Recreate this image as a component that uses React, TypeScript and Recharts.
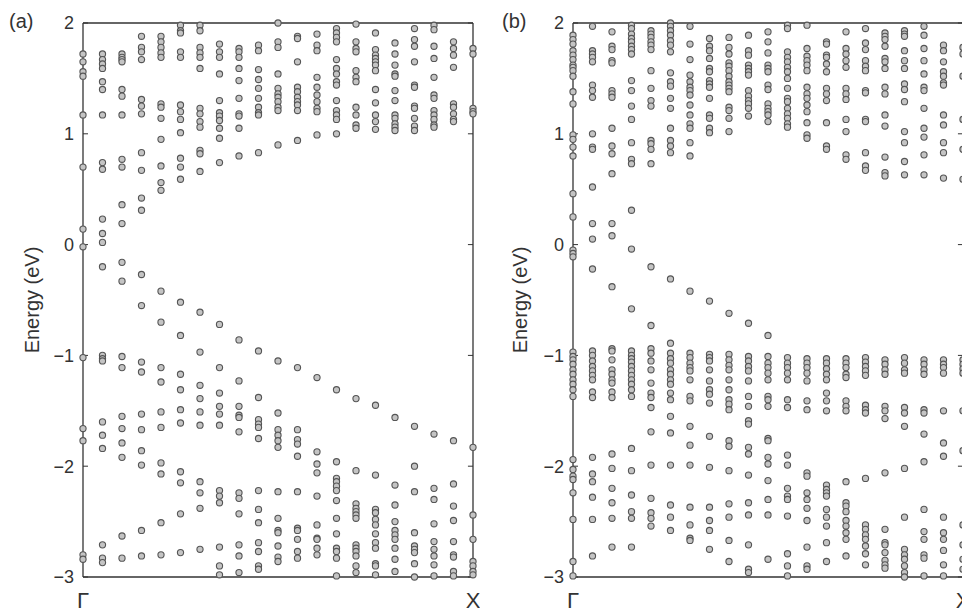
import React from "react";
import { ScatterChart, Scatter, XAxis, YAxis, ReferenceLine } from "recharts";

// k index along Γ → X (21 sampled points)
const kIndex = [0, 1, 2, 3, 4, 5, 6, 7, 8, 9, 10, 11, 12, 13, 14, 15, 16, 17, 18, 19, 20];
const kTicks = [0, 20];
const kLabels = ["Γ", "X"];
const energyTicks = [-3, -2, -1, 0, 1, 2];

// panel (a): energies (eV) per k column
const bandsA: number[][] = [
  [1.72, 1.65, 1.56, 1.52, 1.17, 0.7, 0.14, -0.02, -1.02, -1.66, -1.77, -2.8, -2.84],
  [1.72, 1.67, 1.63, 1.59, 1.47, 1.4, 1.17, 0.74, 0.68, 0.23, 0.1, 0.02, -0.2, -1.0, -1.03, -1.05, -1.6, -1.72, -1.84, -2.71, -2.83, -2.87],
  [1.72, 1.69, 1.67, 1.65, 1.4, 1.34, 1.17, 0.77, 0.7, 0.36, 0.19, -0.16, -0.33, -1.01, -1.11, -1.55, -1.66, -1.79, -1.92, -2.63, -2.83],
  [1.88, 1.78, 1.74, 1.67, 1.31, 1.25, 1.18, 0.83, 0.67, 0.42, 0.31, -0.27, -0.55, -1.06, -1.15, -1.53, -1.67, -1.86, -1.99, -2.58, -2.81],
  [1.88, 1.83, 1.78, 1.73, 1.69, 1.27, 1.24, 1.14, 0.95, 0.71, 0.56, 0.49, -0.42, -0.7, -1.11, -1.24, -1.51, -1.65, -1.97, -2.07, -2.51, -2.8],
  [1.98, 1.93, 1.91, 1.74, 1.69, 1.26, 1.2, 1.13, 1.01, 0.78, 0.7, 0.59, -0.52, -0.82, -1.17, -1.31, -1.49, -1.61, -2.05, -2.15, -2.43, -2.78],
  [1.98, 1.93, 1.78, 1.73, 1.69, 1.59, 1.23, 1.18, 1.11, 1.06, 0.85, 0.82, 0.66, -0.61, -0.97, -1.27, -1.39, -1.51, -1.63, -2.14, -2.24, -2.38, -2.75],
  [1.81, 1.74, 1.69, 1.54, 1.3, 1.19, 1.16, 1.12, 1.05, 0.96, 0.74, -0.72, -1.11, -1.34, -1.46, -1.53, -1.63, -2.22, -2.27, -2.33, -2.73, -2.9, -2.98],
  [1.77, 1.74, 1.69, 1.59, 1.48, 1.32, 1.18, 1.16, 1.05, 0.8, -0.86, -1.23, -1.46, -1.54, -1.56, -1.69, -2.24, -2.29, -2.43, -2.71, -2.81, -2.96],
  [1.8, 1.75, 1.58, 1.49, 1.41, 1.32, 1.24, 1.19, 1.17, 0.83, -0.96, -1.38, -1.58, -1.62, -1.65, -1.75, -2.22, -2.39, -2.51, -2.69, -2.77, -2.9, -2.93],
  [2.0, 1.83, 1.78, 1.54, 1.41, 1.36, 1.33, 1.29, 1.24, 1.21, 0.9, -1.05, -1.52, -1.67, -1.72, -1.77, -1.83, -2.23, -2.47, -2.58, -2.6, -2.72, -2.82, -2.86],
  [1.88, 1.86, 1.65, 1.42, 1.38, 1.33, 1.29, 1.26, 1.21, 0.94, -1.11, -1.67, -1.76, -1.8, -1.91, -2.23, -2.56, -2.58, -2.66, -2.77, -2.83],
  [1.9, 1.8, 1.75, 1.51, 1.42, 1.35, 1.29, 1.23, 1.2, 0.99, -1.2, -1.87, -1.98, -2.06, -2.27, -2.53, -2.65, -2.66, -2.74, -2.8],
  [1.95, 1.91, 1.87, 1.83, 1.67, 1.59, 1.54, 1.47, 1.44, 1.3, 1.21, 1.17, 1.13, 1.0, -1.31, -1.96, -2.11, -2.14, -2.18, -2.22, -2.31, -2.47, -2.61, -2.74, -2.77, -2.83, -2.99],
  [1.99, 1.83, 1.77, 1.74, 1.57, 1.51, 1.47, 1.24, 1.17, 1.08, 1.05, -1.39, -2.04, -2.34, -2.38, -2.41, -2.44, -2.47, -2.71, -2.74, -2.77, -2.81, -2.9, -2.96],
  [1.91, 1.76, 1.71, 1.68, 1.65, 1.62, 1.57, 1.4, 1.28, 1.17, 1.11, 1.04, -1.45, -2.08, -2.39, -2.42, -2.48, -2.53, -2.61, -2.69, -2.74, -2.88, -2.9, -2.98],
  [1.82, 1.72, 1.62, 1.54, 1.52, 1.39, 1.3, 1.17, 1.14, 1.09, 1.06, 1.03, -1.56, -2.17, -2.35, -2.5, -2.58, -2.62, -2.66, -2.74, -2.84, -2.95],
  [1.95, 1.85, 1.79, 1.65, 1.44, 1.42, 1.25, 1.23, 1.14, 1.07, 1.03, -1.64, -2.0, -2.23, -2.6, -2.72, -2.75, -2.78, -2.88, -3.0],
  [1.98, 1.94, 1.79, 1.68, 1.51, 1.35, 1.32, 1.21, 1.17, 1.13, 1.08, 1.06, -1.71, -2.2, -2.3, -2.52, -2.68, -2.75, -2.81, -2.89, -2.99],
  [1.83, 1.77, 1.71, 1.6, 1.27, 1.24, 1.18, 1.13, 1.11, -1.77, -2.16, -2.36, -2.49, -2.68, -2.8, -2.82, -2.95, -2.99],
  [1.77, 1.72, 1.23, 1.2, 1.18, -1.83, -2.44, -2.66, -2.86, -2.9, -2.95, -2.98],
];

// panel (b): energies (eV) per k column
const bandsB: number[][] = [
  [1.89, 1.85, 1.81, 1.75, 1.71, 1.67, 1.62, 1.6, 1.57, 1.52, 1.38, 1.27, 0.99, 0.95, 0.88, 0.8, 0.46, 0.25, -0.05, -0.08, -0.11, -0.97, -1.01, -1.04, -1.08, -1.13, -1.17, -1.22, -1.26, -1.31, -1.37, -1.94, -2.03, -2.09, -2.12, -2.24, -2.48, -2.86, -2.99],
  [1.97, 1.75, 1.72, 1.69, 1.65, 1.44, 1.39, 1.33, 1.0, 0.88, 0.86, 0.52, 0.19, 0.05, -0.22, -0.96, -1.0, -1.05, -1.1, -1.14, -1.18, -1.22, -1.33, -1.38, -1.92, -2.07, -2.14, -2.28, -2.48, -2.81],
  [1.92, 1.79, 1.76, 1.66, 1.64, 1.39, 1.36, 1.33, 1.05, 0.89, 0.82, 0.64, 0.19, 0.08, -0.38, -0.94, -0.96, -1.04, -1.13, -1.17, -1.22, -1.25, -1.33, -1.38, -1.89, -2.02, -2.2, -2.33, -2.47, -2.73],
  [1.98, 1.95, 1.9, 1.86, 1.83, 1.79, 1.76, 1.72, 1.48, 1.39, 1.25, 1.13, 0.92, 0.77, 0.73, 0.31, -0.04, -0.58, -0.96, -1.0, -1.03, -1.06, -1.1, -1.14, -1.18, -1.22, -1.26, -1.31, -1.37, -1.84, -2.04, -2.26, -2.41, -2.47, -2.73],
  [1.93, 1.9, 1.87, 1.83, 1.8, 1.76, 1.57, 1.41, 1.3, 1.25, 0.94, 0.91, 0.86, 0.73, -0.2, -0.73, -0.94, -0.98, -1.05, -1.13, -1.25, -1.34, -1.38, -1.47, -1.69, -1.99, -2.29, -2.42, -2.47, -2.54],
  [2.0, 1.97, 1.93, 1.89, 1.84, 1.8, 1.74, 1.55, 1.47, 1.43, 1.32, 1.23, 1.05, 0.94, 0.89, 0.83, -0.31, -0.89, -0.98, -1.03, -1.07, -1.13, -1.17, -1.22, -1.26, -1.34, -1.4, -1.55, -1.7, -1.99, -2.35, -2.46, -2.58],
  [1.97, 1.81, 1.67, 1.53, 1.47, 1.42, 1.39, 1.35, 1.26, 1.17, 1.09, 1.05, 0.92, 0.8, -0.42, -0.98, -1.02, -1.07, -1.11, -1.14, -1.22, -1.37, -1.41, -1.64, -1.81, -1.99, -2.37, -2.53, -2.65, -2.67],
  [1.86, 1.79, 1.75, 1.68, 1.59, 1.56, 1.48, 1.45, 1.42, 1.32, 1.17, 1.14, 1.05, 1.01, -0.51, -0.99, -1.02, -1.05, -1.13, -1.23, -1.31, -1.35, -1.43, -1.73, -2.01, -2.37, -2.49, -2.58, -2.75],
  [1.87, 1.78, 1.72, 1.64, 1.61, 1.57, 1.52, 1.47, 1.44, 1.41, 1.38, 1.24, 1.21, 1.14, 1.02, -0.62, -0.99, -1.04, -1.09, -1.13, -1.22, -1.31, -1.4, -1.44, -1.49, -1.77, -1.82, -2.04, -2.34, -2.46, -2.67, -2.86],
  [1.89, 1.75, 1.71, 1.62, 1.59, 1.56, 1.53, 1.39, 1.34, 1.3, 1.27, 1.23, 1.16, -0.71, -1.01, -1.05, -1.1, -1.14, -1.23, -1.37, -1.46, -1.59, -1.62, -1.83, -1.89, -2.08, -2.33, -2.44, -2.71, -2.93, -2.96],
  [1.92, 1.83, 1.73, 1.62, 1.59, 1.56, 1.44, 1.4, 1.27, 1.23, 1.2, 1.17, 1.11, -0.82, -1.01, -1.07, -1.11, -1.16, -1.22, -1.37, -1.4, -1.46, -1.75, -1.77, -1.92, -1.98, -2.13, -2.3, -2.44, -2.84],
  [1.98, 1.95, 1.74, 1.69, 1.65, 1.6, 1.56, 1.5, 1.41, 1.32, 1.29, 1.23, 1.18, 1.14, 1.09, 1.06, -1.02, -1.07, -1.11, -1.16, -1.22, -1.4, -1.47, -1.9, -1.99, -2.2, -2.27, -2.3, -2.45, -2.79, -2.9, -2.99],
  [1.98, 1.77, 1.7, 1.66, 1.62, 1.57, 1.42, 1.36, 1.32, 1.26, 1.2, 1.1, 0.99, 0.96, -1.03, -1.07, -1.11, -1.16, -1.23, -1.41, -1.49, -2.06, -2.09, -2.24, -2.3, -2.38, -2.49, -2.73, -2.9, -2.93],
  [1.83, 1.81, 1.71, 1.69, 1.63, 1.56, 1.41, 1.36, 1.3, 1.1, 0.89, 0.86, -1.03, -1.07, -1.12, -1.17, -1.22, -1.34, -1.41, -1.5, -2.17, -2.21, -2.24, -2.27, -2.39, -2.46, -2.54, -2.69, -2.86],
  [1.92, 1.77, 1.72, 1.66, 1.6, 1.41, 1.36, 1.31, 1.13, 1.02, 0.81, 0.77, -1.03, -1.07, -1.11, -1.17, -1.2, -1.41, -1.46, -1.5, -2.14, -2.33, -2.36, -2.41, -2.49, -2.54, -2.6, -2.66, -2.81],
  [1.95, 1.82, 1.76, 1.66, 1.61, 1.57, 1.39, 1.37, 1.13, 1.11, 0.83, 0.71, 0.67, -1.02, -1.06, -1.1, -1.14, -1.18, -1.45, -1.49, -1.52, -2.11, -2.53, -2.57, -2.62, -2.66, -2.72, -2.79, -2.89],
  [1.91, 1.88, 1.85, 1.79, 1.68, 1.65, 1.59, 1.42, 1.36, 1.17, 1.07, 0.79, 0.65, 0.62, -1.04, -1.08, -1.13, -1.17, -1.46, -1.5, -1.57, -2.06, -2.57, -2.69, -2.71, -2.78, -2.85, -2.89, -2.92],
  [1.93, 1.9, 1.88, 1.75, 1.66, 1.59, 1.45, 1.4, 1.29, 1.02, 0.92, 0.75, 0.63, -1.02, -1.07, -1.13, -1.16, -1.47, -1.52, -1.64, -2.02, -2.46, -2.75, -2.8, -2.84, -2.9, -2.96, -3.0],
  [1.97, 1.89, 1.77, 1.66, 1.54, 1.42, 1.39, 1.23, 1.05, 0.97, 0.81, 0.63, -1.04, -1.08, -1.13, -1.17, -1.49, -1.52, -1.71, -1.96, -2.39, -2.59, -2.66, -2.8, -2.83, -2.99],
  [1.8, 1.75, 1.65, 1.56, 1.52, 1.46, 1.44, 1.17, 1.08, 0.92, 0.83, 0.6, -1.04, -1.08, -1.11, -1.16, -1.5, -1.79, -1.91, -2.46, -2.6, -2.66, -2.76, -2.89, -2.99],
  [1.78, 1.72, 1.52, 1.13, 0.86, 0.59, -1.04, -1.08, -1.12, -1.16, -1.5, -1.86, -2.53, -2.71, -2.84, -2.93],
];

const FONT = "'Liberation Sans', Arial, Helvetica, sans-serif";
const INK = "#333";
const K_MIN = kIndex[0];
const K_MAX = kIndex[kIndex.length - 1];
const E_MIN = energyTicks[0];
const E_MAX = energyTicks[energyTicks.length - 1];
const TICK_K = 0.26; // inward tick length on the right frame, in k units

const toPoints = (bands: number[][]) =>
  bands.flatMap((col, i) => col.map((e) => ({ k: kIndex[i], e })));

const fmtE = (v: number) => (v < 0 ? "\u2212" + Math.abs(v) : String(v));
const fmtK = (v: number) => kLabels[kTicks.indexOf(v)] ?? "";

const Ring = (props: any) => (
  <circle cx={props.cx} cy={props.cy} r={3.1} fill="#c4c4c4" stroke="#555" strokeWidth={1.1} />
);

function BandPanel({ bands, left }: { bands: number[][]; left: number }) {
  const axisLine = { stroke: INK, strokeWidth: 1.3 };
  return (
    <div style={{ position: "absolute", left, top: 0 }}>
      <ScatterChart width={480} height={640} margin={{ top: 23, right: 7, bottom: 23, left: 0 }}>
        <XAxis
          dataKey="k"
          type="number"
          domain={[K_MIN, K_MAX]}
          ticks={kTicks}
          tickFormatter={fmtK}
          interval={0}
          tickLine={false}
          axisLine={axisLine}
          height={40}
          tickMargin={9}
          tick={{ fontSize: 22, fill: INK, fontFamily: FONT }}
        />
        <YAxis
          dataKey="e"
          type="number"
          domain={[E_MIN, E_MAX]}
          ticks={energyTicks}
          tickFormatter={fmtE}
          interval={0}
          width={83}
          tickSize={-5}
          tickMargin={14}
          tickLine={{ stroke: INK, strokeWidth: 1 }}
          axisLine={axisLine}
          tick={{ fontSize: 18, fill: INK, fontFamily: FONT }}
        />
        {/* top and right frame */}
        <ReferenceLine y={E_MAX} stroke={INK} strokeWidth={1.3} />
        <ReferenceLine x={K_MAX} stroke={INK} strokeWidth={1.3} />
        {energyTicks.map((v) => (
          <ReferenceLine
            key={v}
            segment={[
              { x: K_MAX - TICK_K, y: v },
              { x: K_MAX, y: v },
            ]}
            stroke={INK}
            strokeWidth={1}
          />
        ))}
        <Scatter data={toPoints(bands)} shape={Ring} isAnimationActive={false} />
      </ScatterChart>
    </div>
  );
}

const sideLabel: React.CSSProperties = {
  position: "absolute",
  fontFamily: FONT,
  fontSize: 20,
  color: INK,
  whiteSpace: "nowrap",
};

function EnergyLabel({ cx }: { cx: number }) {
  return (
    <div
      style={{
        ...sideLabel,
        left: cx - 100,
        top: 300 - 12,
        width: 200,
        height: 24,
        lineHeight: "24px",
        textAlign: "center",
        transform: "rotate(-90deg)",
      }}
    >
      Energy (eV)
    </div>
  );
}

export default function App() {
  return (
    <div
      style={{
        position: "absolute",
        left: 0,
        top: 0,
        width: 962,
        height: 608,
        overflow: "hidden",
        background: "#fff",
      }}
    >
      <BandPanel bands={bandsA} left={0} />
      <BandPanel bands={bandsB} left={490} />
      <div style={{ ...sideLabel, left: 9, top: 10 }}>(a)</div>
      <div style={{ ...sideLabel, left: 502, top: 10 }}>(b)</div>
      <EnergyLabel cx={32} />
      <EnergyLabel cx={520} />
    </div>
  );
}
